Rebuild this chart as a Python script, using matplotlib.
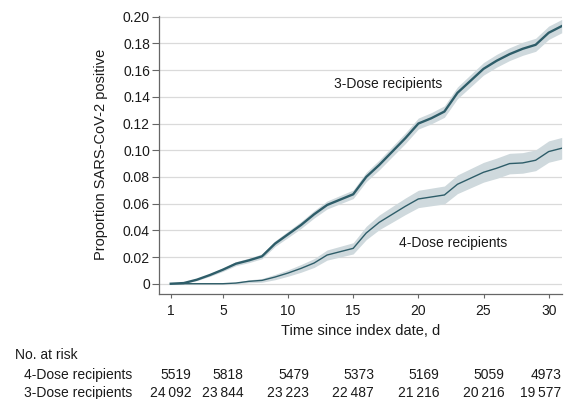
import matplotlib
matplotlib.use("Agg")
import matplotlib.pyplot as plt
import matplotlib.transforms as mtransforms

plt.rcParams['font.family'] = ['Liberation Sans', 'DejaVu Sans']

days = list(range(1, 32))
dose3 = [0.0, 0.0005, 0.003, 0.0065, 0.0105, 0.015, 0.0175, 0.0205, 0.030, 0.037,
         0.044, 0.052, 0.059, 0.063, 0.067, 0.080, 0.089, 0.099, 0.109, 0.120,
         0.124, 0.129, 0.143, 0.152, 0.161, 0.167, 0.172, 0.176, 0.179, 0.188, 0.193]
ci3 = [0.0, 0.0003, 0.0007, 0.001, 0.0013, 0.0015, 0.0017, 0.0018, 0.0021, 0.0024,
       0.0026, 0.0028, 0.003, 0.0031, 0.0032, 0.0035, 0.0037, 0.0038, 0.004, 0.0041,
       0.0042, 0.0043, 0.0044, 0.0046, 0.0047, 0.0048, 0.0048, 0.0049, 0.0049, 0.005, 0.005]
dose4 = [0.0, 0.0, 0.0, 0.0, 0.0, 0.0005, 0.0018, 0.0025, 0.005, 0.008,
         0.0115, 0.0155, 0.0215, 0.024, 0.0265, 0.038, 0.046, 0.052, 0.058, 0.0635,
         0.065, 0.0665, 0.0745, 0.079, 0.0835, 0.0865, 0.090, 0.0905, 0.0925, 0.099, 0.1015]
ci4 = [0.0, 0.0, 0.0, 0.0, 0.0, 0.0006, 0.0011, 0.0014, 0.002, 0.0024,
       0.0029, 0.0033, 0.0038, 0.004, 0.0042, 0.005, 0.0055, 0.0059, 0.0062, 0.0065,
       0.0066, 0.0067, 0.007, 0.0072, 0.0074, 0.0076, 0.0077, 0.0077, 0.0078, 0.008, 0.0081]

xticks = [1, 5, 10, 15, 20, 25, 30]
yticks = [0, 0.02, 0.04, 0.06, 0.08, 0.10, 0.12, 0.14, 0.16, 0.18, 0.20]
ytick_labels = ["0", "0.02", "0.04", "0.06", "0.08", "0.10", "0.12", "0.14", "0.16", "0.18", "0.20"]
risk_groups = ["4-Dose recipients", "3-Dose recipients"]
risk4 = ["5519", "5818", "5479", "5373", "5169", "5059", "4973"]
risk3 = ["24\u2009092", "23\u2009844", "23\u2009223", "22\u2009487", "21\u2009216", "20\u2009216", "19\u2009577"]

line_c = "#2e5d69"
band_c = "#cfd9dd"
text_c = "#1a1a1a"

fig = plt.figure(figsize=(5.71, 3.99), dpi=100)
ax = fig.add_axes([159/571, 105/399, 402.7/571, 278.3/399])

lo3 = [v - c for v, c in zip(dose3, ci3)]
hi3 = [v + c for v, c in zip(dose3, ci3)]
lo4 = [v - c for v, c in zip(dose4, ci4)]
hi4 = [v + c for v, c in zip(dose4, ci4)]

ax.fill_between(days, lo4, hi4, color=band_c, lw=0, zorder=2)
ax.fill_between(days, lo3, hi3, color=band_c, lw=0, zorder=2)
ax.plot(days, dose4, color=line_c, lw=1.0, zorder=3)
ax.plot(days, dose3, color=line_c, lw=1.7, zorder=3)

ax.set_xlim(0.1, 31.0)
ax.set_ylim(-0.0077, 0.2008)
ax.set_xticks(xticks)
ax.set_xticklabels([str(t) for t in xticks])
ax.set_yticks(yticks)
ax.set_yticklabels(ytick_labels)
ax.yaxis.grid(True, color="#dadada", lw=0.9, zorder=0)
ax.set_axisbelow(True)

for s in ["top", "right"]:
    ax.spines[s].set_visible(False)
for s in ["left", "bottom"]:
    ax.spines[s].set_color("#666666")
    ax.spines[s].set_linewidth(0.9)

ax.tick_params(axis="y", length=5, width=0.8, color="#666666", pad=1.5,
               labelsize=10, labelcolor=text_c)
ax.tick_params(axis="x", length=3, width=0.8, color="#666666", pad=4,
               labelsize=10, labelcolor=text_c)

ax.set_ylabel("Proportion SARS-CoV-2 positive", fontsize=10.5, color=text_c, va="center")
ax.yaxis.set_label_coords(-0.144, 0.5)
ax.set_xlabel("Time since index date, d", fontsize=10.5, color=text_c, va="center")
ax.xaxis.set_label_coords(0.5, -0.133)

ax.text(17.7, 0.1496, "3-Dose recipients", fontsize=10, color=text_c,
        ha="center", va="center")
ax.text(22.7, 0.0303, "4-Dose recipients", fontsize=10, color=text_c,
        ha="center", va="center")

# Number at risk table
fig.text(15/571, 1 - 355/399, "No. at risk", fontsize=10, color=text_c, ha="left", va="center")
trans = mtransforms.blended_transform_factory(ax.transData, fig.transFigure)
rows_y = [1 - 375/399, 1 - 393/399]
for name, vals, yy in zip(risk_groups, [risk4, risk3], rows_y):
    fig.text(24/571, yy, name, fontsize=10, color=text_c, ha="left", va="center")
    for t, v in zip(xticks, vals):
        xpos = min(t + 1.6, 31.0)
        ax.text(xpos, yy, v, transform=trans, fontsize=10, color=text_c,
                ha="right", va="center", clip_on=False)

fig.savefig("out.png", dpi=100)
